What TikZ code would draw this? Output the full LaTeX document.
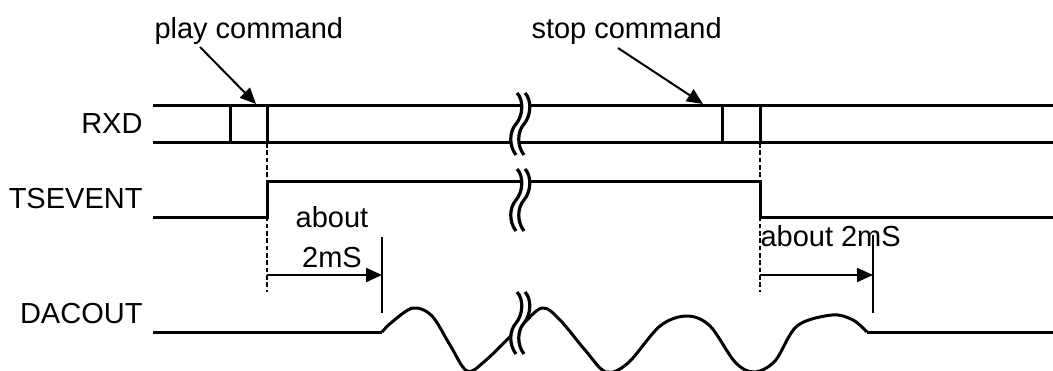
\documentclass[tikz,border=0pt]{standalone}
\usepackage{fontspec}
\setmainfont{Liberation Sans}
\usetikzlibrary{arrows.meta}

\tikzset{every picture/.style={line width=0.75pt}}
\tikzset{
	sig/.style={line width=2.25pt},
	guide/.style={line width=1.1pt, dash pattern={on 3.5pt off 2pt}},
	span/.style={line width=1.5pt, -{Triangle[length=12pt,width=10.5pt]}},
	tickline/.style={line width=1.1pt},
	lbl/.style={font=\fontsize{21.75pt}{26pt}\selectfont, inner sep=0pt},
	brkmark/.pic={
		\fill[white] (-4,-31) .. controls (-11,-22) and (-11,-8) .. (-4,0) .. controls (3,8) and (4,24) .. (-3,31) -- (5,31) .. controls (12,24) and (11,8) .. (4,0) .. controls (-3,-8) and (-3,-22) .. (4,-31) -- cycle ;
		\draw[line width=2.4pt] (-4,-31) .. controls (-11,-22) and (-11,-8) .. (-4,0) .. controls (3,8) and (4,24) .. (-3,31) ;
		\draw[line width=2.4pt] (4,-31) .. controls (-3,-22) and (-3,-8) .. (4,0) .. controls (11,8) and (12,24) .. (5,31) ;
	}
}

\begin{document}
\begin{tikzpicture}[x=0.75pt,y=0.75pt,yscale=-1,xscale=1]
	\path[use as bounding box] (0,0) rectangle (1053,371);

	% Signal names
	\node[lbl, anchor=base east] (rxd) at (143,133) {RXD};
	\node[lbl, anchor=base east] (tsevent) at (143,208) {TSEVENT};
	\node[lbl, anchor=base east] (dacout) at (143,323) {DACOUT};

	%Straight Lines: RXD bus
	\draw[sig] (153,105) -- (1053,105) ;
	\draw[sig] (153,142) -- (1053,142) ;
	\draw[sig] (230,105) -- (230,142) ;
	\draw[sig] (267,105) -- (267,142) ;
	\draw[sig] (722,105) -- (722,142) ;
	\draw[sig] (760,105) -- (760,142) ;

	%Straight Lines: guides
	\coordinate (riseA) at (267,143) ;
	\coordinate (riseB) at (267,292) ;
	\coordinate (fallA) at (760,143) ;
	\coordinate (fallB) at (760,292) ;
	\draw[guide] (riseA) -- (riseB) ;
	\draw[guide] (fallA) -- (fallB) ;

	%Straight Lines: TSEVENT
	\draw[sig] (153,217) -- (267,217) -- (267,181) -- (760,181) -- (760,217) -- (1053,217) ;

	%Curve Lines: DACOUT
	\draw[sig] (153,332) -- (382,332) ;
	\draw[sig] plot[smooth, tension=0.55] coordinates {(382,332) (392,322) (413,308) (432,316) (450,345) (467,371) (485,361) (520,327) (542,308) (560,320) (585,350) (606,372) (628,363) (660,326) (687,316) (710,326) (735,362) (754,372) (775,361) (797,326) (832,315) (853,320) (867,332)} ;
	\draw[sig] (867,332) -- (1053,332) ;

	% Break marks
	\pic at (520,124) {brkmark};
	\pic at (520,200) {brkmark};
	\pic at (520,323) {brkmark};

	% Text Node
	\node[lbl, anchor=base west] (playcmd) at (154,38) {play command};
	\node[lbl, anchor=base west] (stopcmd) at (531,38) {stop command};
	\coordinate (playtail) at (200,47) ;
	\coordinate (playtip) at (256,104) ;
	\coordinate (stoptail) at (618,48) ;
	\coordinate (stoptip) at (703,104) ;
	\draw[span] (playtail) -- (playtip) ;
	\draw[span] (stoptail) -- (stoptip) ;

	% Delay spans
	\coordinate (endA) at (382,275) ;
	\coordinate (endB) at (873,275) ;
	\draw[tickline] (382,237) -- (382,313) ;
	\draw[tickline] (873,235) -- (873,313) ;
	\draw[span] (267,275) -- (endA) ;
	\draw[span] (760,275) -- (endB) ;
	\node[lbl, anchor=base] (aboutA) at (332,227) {about};
	\node[lbl, anchor=base] (twomsA) at (332,267) {2mS};
	\node[lbl, anchor=base west] (aboutB) at (760,246) {about 2mS};

\end{tikzpicture}
\end{document}
